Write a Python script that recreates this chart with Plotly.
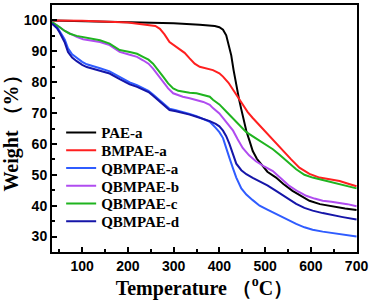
import plotly.graph_objects as go

names = ["PAE-a", "BMPAE-a", "QBMPAE-a", "QBMPAE-b", "QBMPAE-c", "QBMPAE-d"]
colors = ["#000000", "#ff1f1f", "#2f5cff", "#b04cf0", "#1fb41f", "#1515a8"]

pae_x = [34, 100, 200, 300, 357, 390, 400, 408, 415, 420, 426, 431, 437, 443, 448, 454, 459, 466, 473, 482, 491, 505, 524, 540, 560, 580, 597, 620, 648, 675, 700]
pae_y = [100, 99.8, 99.5, 99.1, 98.6, 98.2, 97.8, 97, 95.2, 92.5, 88.7, 84, 78.5, 74.5, 71.2, 67.5, 64.2, 61, 57.7, 55.2, 53.4, 51, 49.1, 47, 44.8, 43, 41.6, 40.5, 39.7, 39.1, 38.6]

bm_x = [34, 100, 200, 248, 260, 270, 280, 291, 302, 313, 324, 335, 346, 357, 370, 386, 400, 408, 420, 430, 440, 451, 462, 473, 486, 502, 520, 539, 557, 575, 597, 619, 640, 663, 680, 700]
bm_y = [100, 99.9, 99.3, 98.6, 98.2, 97.3, 95.5, 93, 91.8, 90.9, 89.5, 87.7, 86, 85, 84.5, 83.9, 82.9, 81.8, 79.8, 77.5, 75, 72.7, 70.3, 68.4, 66.3, 63.8, 60.7, 57.7, 55, 52.3, 50.3, 49.1, 48.6, 48, 47.2, 46.3]

c_x = [34, 40, 51, 62, 73, 88, 102, 120, 139, 160, 182, 204, 220, 233, 245, 255, 266, 277, 288, 299, 310, 320, 335, 350, 365, 379, 386, 400, 415, 426, 437, 448, 459, 480, 502, 517, 531, 550, 568, 586, 604, 626, 648, 670, 700]
c_y = [99.5, 99, 97.8, 96.6, 95.7, 95, 94.6, 94, 93.6, 92.5, 90.4, 89.8, 89.2, 88.2, 87.3, 86, 84, 81.8, 79.6, 78, 77.2, 76.9, 76.6, 76.4, 75.9, 75.3, 74.3, 72.8, 70.5, 68.8, 67.3, 65.6, 63.8, 61.8, 59.8, 58.3, 56.6, 54, 51.8, 50, 49.1, 48.3, 47.5, 46.8, 45.6]

b_x = [34, 40, 51, 62, 73, 88, 102, 120, 139, 160, 182, 204, 220, 233, 245, 255, 266, 277, 288, 299, 310, 320, 335, 350, 365, 379, 386, 400, 408, 420, 430, 440, 451, 465, 480, 498, 517, 535, 553, 572, 590, 608, 626, 645, 663, 680, 700]
b_y = [99.5, 99, 97.8, 96.6, 95.7, 94.7, 93.9, 93.4, 93, 92, 89.8, 88.9, 88.2, 87.1, 86, 84.4, 82.3, 80.2, 78, 76.4, 75.7, 75.3, 74.8, 74.3, 73.6, 72.7, 71.6, 69.9, 68.4, 66.3, 64.3, 61.5, 58.7, 56.3, 54.4, 52.7, 51.2, 48.8, 46.4, 44.6, 43.2, 42.3, 41.6, 41.3, 41, 40.5, 39.8]

blue_x = [34, 40, 45, 51, 56, 62, 69, 78, 88, 100, 110, 125, 139, 160, 182, 204, 220, 233, 245, 255, 266, 277, 291, 305, 320, 335, 350, 365, 379, 392, 400, 408, 415, 422, 430, 437, 448, 459, 473, 488, 505, 524, 546, 568, 586, 604, 626, 648, 670, 700]
a_y = [99, 98.5, 97.8, 96.6, 95.3, 93.8, 91, 89, 87.8, 86.6, 85.8, 85, 84.5, 83.5, 81.6, 79.9, 79, 78.2, 77.2, 76, 74.6, 72.9, 71.4, 70.9, 70.4, 69.7, 69, 68.2, 67.2, 65.2, 63.8, 61.9, 59, 55.5, 52, 49.1, 45.6, 43.6, 41.8, 40, 38.7, 37.3, 35.6, 34.1, 33, 32.2, 31.6, 31.1, 30.6, 30]
d_y = [99, 98.3, 97.5, 96, 94.5, 92.8, 89.8, 88, 86.8, 85.6, 84.9, 84.3, 83.8, 82.8, 81, 79.3, 78.5, 77.7, 76.8, 75.6, 74.2, 72.5, 71, 70.6, 70.1, 69.5, 68.8, 68.2, 67.4, 66.5, 65.7, 64.3, 62.5, 60, 56.5, 53.6, 51.5, 50.2, 49, 48, 46.6, 44.8, 42.7, 40.6, 39.3, 38.4, 37.6, 36.9, 36.3, 35.5]

series = [(pae_x, pae_y), (bm_x, bm_y), (blue_x, a_y), (b_x, b_y), (c_x, c_y), (blue_x, d_y)]

legend_ids = ["legend", "legend2", "legend3", "legend4", "legend5", "legend6"]

fig = go.Figure()
for name, col, lid, (xs, ys) in zip(names, colors, legend_ids, series):
    fig.add_trace(go.Scatter(x=xs, y=ys, mode="lines", name=name, legend=lid,
                             line=dict(color=col, width=2)))

legfont = dict(family="Liberation Serif, Times New Roman", size=15, color="black", weight="bold")
layout_legends = {}
for i, lid in enumerate(legend_ids):
    ypix = 131.7 + 17.9 * i  # row centre in pixels from top of page
    layout_legends[lid] = dict(x=0.03, y=(252 - ypix) / 249, xanchor="left", yanchor="middle",
                               bgcolor="rgba(0,0,0,0)", borderwidth=0, font=legfont,
                               itemwidth=30)

tickfont = dict(family="Liberation Sans, Arial", size=14, color="black", weight="bold")
titlefont = dict(family="Liberation Serif, Times New Roman", size=20, color="black", weight="bold")
fig.update_layout(
    width=371, height=301,
    margin=dict(l=52, r=13, t=3, b=49),
    paper_bgcolor="white", plot_bgcolor="white",
    showlegend=True,
    xaxis=dict(range=[34, 701], tickvals=[100, 200, 300, 400, 500, 600, 700],
               ticks="inside", ticklen=5, tickwidth=2, tickcolor="black",
               minor=dict(ticks="inside", dtick=50, tick0=0, ticklen=3, tickwidth=1.5, tickcolor="black"),
               showline=True, linewidth=2, linecolor="black", mirror=True,
               showgrid=False, zeroline=False, tickfont=tickfont,
               title=dict(text="Temperature （<sup>o</sup>C）", standoff=8, font=titlefont)),
    yaxis=dict(range=[25, 105], tickvals=[30, 40, 50, 60, 70, 80, 90, 100],
               ticks="inside", ticklen=5, tickwidth=2, tickcolor="black",
               minor=dict(ticks="inside", dtick=5, tick0=0, ticklen=3, tickwidth=1.5, tickcolor="black"),
               showline=True, linewidth=2, linecolor="black", mirror=True,
               showgrid=False, zeroline=False, tickfont=tickfont,
               title=dict(text="Weight （%）", standoff=6, font=titlefont)),
    **layout_legends,
)

fig.write_html("out.html", config={"displayModeBar": False},
               post_script="document.body.style.margin='0';document.body.style.overflow='hidden';")
